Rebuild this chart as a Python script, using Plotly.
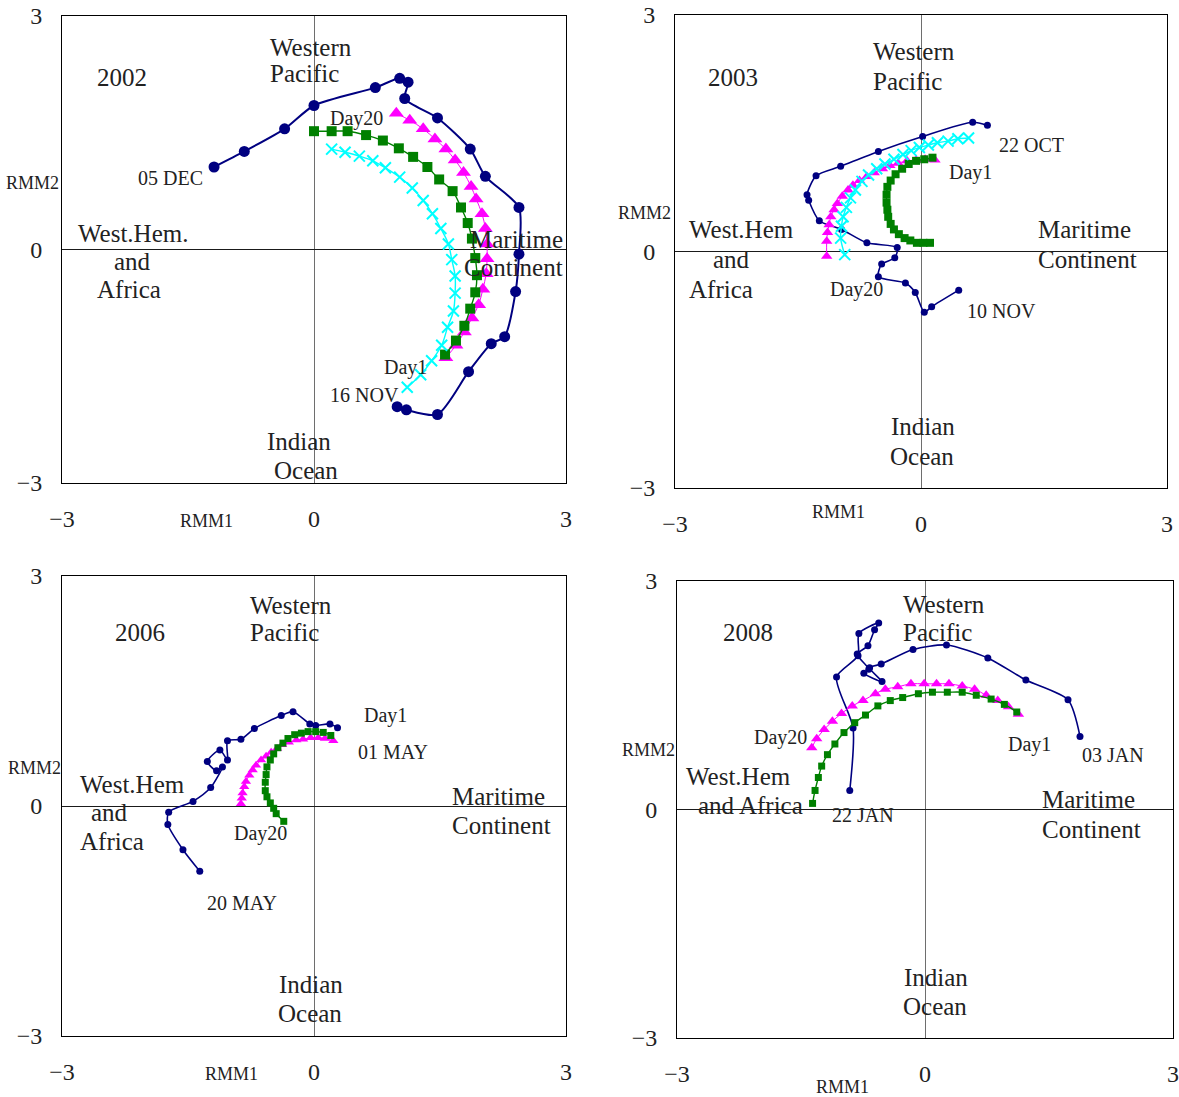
import plotly.graph_objects as go

W, H = 1179, 1097

# ---------------- DATA ----------------
# 2002 panel
obs_2002_x = [0.99, 1.10, 1.47, 1.84, 2.11, 2.27, 2.40, 2.44, 2.44, 2.04, 1.86, 1.47, 1.08, 1.12, 1.02, 0.73, 0.00, -0.35, -0.83, -1.19]
obs_2002_y = [-2.02, -2.06, -2.12, -1.57, -1.21, -1.12, -0.54, -0.06, 0.54, 0.94, 1.29, 1.69, 1.94, 2.15, 2.20, 2.08, 1.85, 1.55, 1.26, 1.06]
mag_2002_x = [1.57, 1.69, 1.79, 1.88, 1.96, 2.01, 2.05, 2.06, 2.06, 2.04, 2.00, 1.93, 1.87, 1.78, 1.68, 1.57, 1.44, 1.30, 1.14, 0.98]
mag_2002_y = [-1.39, -1.23, -1.06, -0.88, -0.71, -0.51, -0.31, -0.12, 0.07, 0.27, 0.46, 0.65, 0.81, 0.99, 1.15, 1.29, 1.42, 1.55, 1.66, 1.75]
grn_2002_x = [1.56, 1.69, 1.79, 1.86, 1.92, 1.94, 1.92, 1.88, 1.83, 1.75, 1.65, 1.49, 1.35, 1.18, 1.01, 0.82, 0.62, 0.40, 0.21, 0.00]
grn_2002_y = [-1.35, -1.17, -0.98, -0.76, -0.55, -0.33, -0.11, 0.14, 0.34, 0.54, 0.75, 0.90, 1.06, 1.19, 1.30, 1.40, 1.47, 1.52, 1.52, 1.52]
cyn_2002_x = [1.11, 1.27, 1.40, 1.52, 1.59, 1.66, 1.68, 1.68, 1.64, 1.60, 1.51, 1.41, 1.30, 1.17, 1.02, 0.85, 0.70, 0.54, 0.37, 0.21]
cyn_2002_y = [-1.77, -1.61, -1.43, -1.23, -1.00, -0.79, -0.56, -0.34, -0.13, 0.07, 0.27, 0.46, 0.63, 0.79, 0.93, 1.05, 1.14, 1.20, 1.25, 1.29]

# 2003 panel
obs_2003_x = [0.81, 0.63, 0.02, -0.52, -0.98, -1.28, -1.39, -1.37, -1.24, -0.97, -0.66, -0.29, -0.32, -0.48, -0.52, -0.19, -0.07, 0.04, 0.13, 0.46]
obs_2003_y = [1.60, 1.64, 1.46, 1.27, 1.08, 0.96, 0.72, 0.65, 0.39, 0.28, 0.11, 0.05, -0.08, -0.16, -0.32, -0.40, -0.52, -0.77, -0.70, -0.49]
mag_2003_x = [0.17, 0.05, -0.06, -0.17, -0.28, -0.38, -0.47, -0.57, -0.66, -0.75, -0.83, -0.89, -0.96, -1.02, -1.06, -1.10, -1.12, -1.14, -1.15, -1.15]
mag_2003_y = [1.16, 1.17, 1.16, 1.15, 1.12, 1.09, 1.05, 1.00, 0.95, 0.90, 0.84, 0.78, 0.70, 0.61, 0.53, 0.44, 0.34, 0.24, 0.13, -0.06]
grn_2003_x = [0.14, 0.04, -0.06, -0.15, -0.23, -0.31, -0.37, -0.41, -0.42, -0.42, -0.41, -0.40, -0.37, -0.33, -0.27, -0.20, -0.13, -0.05, 0.03, 0.11]
grn_2003_y = [1.19, 1.17, 1.15, 1.11, 1.05, 0.98, 0.90, 0.82, 0.72, 0.62, 0.53, 0.44, 0.35, 0.28, 0.22, 0.17, 0.14, 0.11, 0.11, 0.11]
cyn_2003_x = [0.58, 0.45, 0.33, 0.20, 0.09, -0.02, -0.12, -0.22, -0.33, -0.44, -0.54, -0.64, -0.72, -0.80, -0.86, -0.91, -0.95, -0.97, -0.98, -0.93]
cyn_2003_y = [1.44, 1.43, 1.40, 1.38, 1.35, 1.32, 1.28, 1.23, 1.17, 1.11, 1.05, 0.97, 0.89, 0.78, 0.68, 0.56, 0.44, 0.32, 0.17, -0.04]

# 2006 panel
obs_2006_x = [0.28, 0.19, 0.02, -0.05, -0.25, -0.39, -0.71, -0.87, -1.03, -1.03, -1.12, -1.27, -1.16, -1.09, -1.23, -1.44, -1.73, -1.74, -1.56, -1.36]
obs_2006_y = [1.02, 1.07, 1.05, 1.07, 1.23, 1.18, 1.01, 0.87, 0.85, 0.60, 0.73, 0.58, 0.46, 0.51, 0.24, 0.06, -0.08, -0.24, -0.57, -0.85]
mag_2006_x = [0.23, 0.13, 0.05, -0.04, -0.13, -0.21, -0.30, -0.38, -0.44, -0.51, -0.57, -0.63, -0.69, -0.73, -0.77, -0.81, -0.83, -0.85, -0.86, -0.87]
mag_2006_y = [0.85, 0.88, 0.89, 0.89, 0.87, 0.86, 0.83, 0.80, 0.75, 0.70, 0.65, 0.60, 0.53, 0.47, 0.40, 0.32, 0.25, 0.17, 0.10, 0.03]
grn_2006_x = [0.20, 0.11, 0.02, -0.07, -0.15, -0.23, -0.31, -0.37, -0.43, -0.48, -0.52, -0.56, -0.57, -0.58, -0.58, -0.56, -0.52, -0.48, -0.45, -0.36]
grn_2006_y = [0.92, 0.96, 0.97, 0.97, 0.95, 0.93, 0.88, 0.82, 0.76, 0.68, 0.60, 0.51, 0.41, 0.31, 0.20, 0.12, 0.04, -0.03, -0.10, -0.20]

# 2008 panel
obs_2008_x = [1.875, 1.73, 1.22, 0.76, 0.26, -0.145, -0.53, -0.67, -0.52, -0.74, -0.68, -0.82, -0.69, -0.61, -0.56, -0.80, -0.81, -1.07, -0.87, -0.91]
obs_2008_y = [0.96, 1.44, 1.70, 1.99, 2.16, 2.10, 1.91, 1.86, 1.68, 1.79, 1.84, 2.04, 2.15, 2.36, 2.45, 2.31, 2.02, 1.74, 1.07, 0.25]
mag_2008_x = [1.13, 1.01, 0.88, 0.74, 0.60, 0.45, 0.29, 0.14, -0.01, -0.17, -0.33, -0.48, -0.60, -0.75, -0.88, -1.01, -1.12, -1.22, -1.31, -1.37]
mag_2008_y = [1.25, 1.35, 1.43, 1.50, 1.58, 1.62, 1.65, 1.65, 1.65, 1.65, 1.61, 1.58, 1.52, 1.43, 1.36, 1.26, 1.16, 1.05, 0.93, 0.81]
grn_2008_x = [1.11, 0.96, 0.80, 0.62, 0.45, 0.27, 0.09, -0.08, -0.27, -0.42, -0.57, -0.72, -0.85, -0.98, -1.09, -1.18, -1.25, -1.29, -1.33, -1.36]
grn_2008_y = [1.28, 1.38, 1.45, 1.50, 1.54, 1.54, 1.54, 1.52, 1.47, 1.43, 1.36, 1.24, 1.14, 1.01, 0.86, 0.72, 0.57, 0.42, 0.25, 0.08]

tick_vals = [-3, 0, 3]
tick_text = ["\u22123", "0", "3"]

# ---------------- LAYOUT SETTINGS ----------------
FONT = "Liberation Serif"
TXT = "#222222"
NAVY, MAGENTA, GREEN, CYAN = "#000080", "#FF00FF", "#008000", "#00FFFF"
BIG, SMALL, AXT, TICK = 25, 20, 18, 24

# panel boxes in pixels: (left, right, top, bottom)
boxes = {
    1: (62, 566, 16, 483),
    2: (675, 1167, 15, 488),
    3: (62, 566, 576, 1036),
    4: (677, 1173, 581, 1038),
}

panels = {
    1: dict(obs=(obs_2002_x, obs_2002_y), mag=(mag_2002_x, mag_2002_y),
            grn=(grn_2002_x, grn_2002_y), cyn=(cyn_2002_x, cyn_2002_y),
            sz=dict(obs=11, mag=13, grn=10, cyn=11), lw=2),
    2: dict(obs=(obs_2003_x, obs_2003_y), mag=(mag_2003_x, mag_2003_y),
            grn=(grn_2003_x, grn_2003_y), cyn=(cyn_2003_x, cyn_2003_y),
            sz=dict(obs=7, mag=10, grn=8, cyn=11), lw=1.6),
    3: dict(obs=(obs_2006_x, obs_2006_y), mag=(mag_2006_x, mag_2006_y),
            grn=(grn_2006_x, grn_2006_y), cyn=None,
            sz=dict(obs=7, mag=9, grn=7, cyn=9), lw=1.6),
    4: dict(obs=(obs_2008_x, obs_2008_y), mag=(mag_2008_x, mag_2008_y),
            grn=(grn_2008_x, grn_2008_y), cyn=None,
            sz=dict(obs=7, mag=10, grn=7, cyn=9), lw=1.6),
}

# text labels: (text, left_px, center_y_px, size, anchor)
labels = {
    1: [("Western", 268, 47, BIG, "left"), ("Pacific", 268, 74, BIG, "left"),
        ("2002", 95, 77, BIG, "left"), ("Day20", 328, 119, SMALL, "left"),
        ("05 DEC", 136, 178, SMALL, "left"), ("West.Hem.", 76, 234, BIG, "left"),
        ("and", 112, 262, BIG, "left"), ("Africa", 95, 290, BIG, "left"),
        ("Maritime", 468, 239, BIG, "left"), ("Continent", 462, 267, BIG, "left"),
        ("Day1", 382, 367, SMALL, "left"), ("16 NOV", 328, 395, SMALL, "left"),
        ("Indian", 265, 442, BIG, "left"), ("Ocean", 272, 470, BIG, "left"),
        ("RMM1", 207, 521, AXT, "center"), ("RMM2", 32, 183, AXT, "center")],
    2: [("Western", 871, 51, BIG, "left"), ("Pacific", 871, 81, BIG, "left"),
        ("2003", 706, 77, BIG, "left"), ("22 OCT", 997, 145, SMALL, "left"),
        ("Day1", 947, 172, SMALL, "left"), ("West.Hem", 687, 229, BIG, "left"),
        ("and", 711, 259, BIG, "left"), ("Africa", 687, 289, BIG, "left"),
        ("Maritime", 1036, 229, BIG, "left"), ("Continent", 1036, 260, BIG, "left"),
        ("Day20", 828, 290, SMALL, "left"), ("10 NOV", 965, 311, SMALL, "left"),
        ("Indian", 889, 426, BIG, "left"), ("Ocean", 888, 456, BIG, "left"),
        ("RMM1", 838, 512, AXT, "center"), ("RMM2", 644, 213, AXT, "center")],
    3: [("Western", 248, 605, BIG, "left"), ("Pacific", 248, 632, BIG, "left"),
        ("2006", 113, 632, BIG, "left"), ("Day1", 362, 715, SMALL, "left"),
        ("01 MAY", 356, 752, SMALL, "left"), ("West.Hem", 78, 784, BIG, "left"),
        ("and", 89, 812, BIG, "left"), ("Africa", 78, 841, BIG, "left"),
        ("Maritime", 450, 796, BIG, "left"), ("Continent", 450, 825, BIG, "left"),
        ("Day20", 232, 833, SMALL, "left"), ("20 MAY", 205, 903, SMALL, "left"),
        ("Indian", 277, 984, BIG, "left"), ("Ocean", 276, 1013, BIG, "left"),
        ("RMM1", 231, 1074, AXT, "center"), ("RMM2", 34, 768, AXT, "center")],
    4: [("Western", 901, 604, BIG, "left"), ("Pacific", 901, 632, BIG, "left"),
        ("2008", 721, 632, BIG, "left"), ("Day20", 752, 737, SMALL, "left"),
        ("Day1", 1006, 744, SMALL, "left"), ("03 JAN", 1080, 755, SMALL, "left"),
        ("West.Hem", 684, 776, BIG, "left"), ("and Africa", 696, 805, BIG, "left"),
        ("22 JAN", 830, 815, SMALL, "left"), ("Maritime", 1040, 799, BIG, "left"),
        ("Continent", 1040, 829, BIG, "left"), ("Indian", 902, 977, BIG, "left"),
        ("Ocean", 901, 1006, BIG, "left"),
        ("RMM1", 842, 1087, AXT, "center"), ("RMM2", 648, 750, AXT, "center")],
}

fig = go.Figure()
layout = dict(width=W, height=H, margin=dict(l=0, r=0, t=0, b=0, autoexpand=False),
              paper_bgcolor="white", plot_bgcolor="white", showlegend=False,
              font=dict(family=FONT, color=TXT))
annotations = []

for i, p in panels.items():
    l, r, t, b = boxes[i]
    xa = "xaxis" if i == 1 else f"xaxis{i}"
    ya = "yaxis" if i == 1 else f"yaxis{i}"
    xr = "x" if i == 1 else f"x{i}"
    yr = "y" if i == 1 else f"y{i}"
    common = dict(range=[-3, 3], showgrid=False, zeroline=True,
                  zerolinewidth=1, showline=True, mirror=True, linecolor="black",
                  linewidth=1, tickvals=tick_vals, ticktext=tick_text, ticks="",
                  automargin=False,
                  tickfont=dict(family=FONT, size=TICK, color=TXT), fixedrange=True)
    layout[xa] = dict(common, domain=[l / W, r / W], anchor=yr, ticklabelstandoff=14,
                      zerolinecolor="#6e6e6e")
    layout[ya] = dict(common, domain=[1 - b / H, 1 - t / H], anchor=xr, ticklabelstandoff=14,
                      zerolinecolor="#1a1a1a")

    sz = p["sz"]
    ox, oy = p["obs"]
    fig.add_trace(go.Scatter(x=ox, y=oy, xaxis=xr, yaxis=yr, mode="lines+markers",
                             line=dict(color=NAVY, width=p["lw"], shape="spline", smoothing=0.7),
                             marker=dict(symbol="circle", size=sz["obs"], color=NAVY)))
    mx, my = p["mag"]
    fig.add_trace(go.Scatter(x=mx, y=my, xaxis=xr, yaxis=yr, mode="lines+markers",
                             line=dict(color=MAGENTA, width=1, shape="spline"),
                             marker=dict(symbol="triangle-up", size=sz["mag"], color=MAGENTA)))
    gx, gy = p["grn"]
    fig.add_trace(go.Scatter(x=gx, y=gy, xaxis=xr, yaxis=yr, mode="lines+markers",
                             line=dict(color=GREEN, width=1.4, shape="spline"),
                             marker=dict(symbol="square", size=sz["grn"], color=GREEN)))
    if p["cyn"] is not None:
        cx, cy = p["cyn"]
        fig.add_trace(go.Scatter(x=cx, y=cy, xaxis=xr, yaxis=yr, mode="lines+markers",
                                 line=dict(color=CYAN, width=1.4, shape="spline"),
                                 marker=dict(symbol="x-thin", size=sz["cyn"],
                                             line=dict(color=CYAN, width=2), color=CYAN)))

    for text, px, py, fs, anc in labels[i]:
        annotations.append(dict(text=text, x=px / W, y=1 - py / H, xref="paper", yref="paper",
                                xanchor=anc, yanchor="middle", showarrow=False,
                                font=dict(family=FONT, size=fs, color=TXT)))

layout["annotations"] = annotations
fig.update_layout(**layout)
fig.write_html("out.html")
